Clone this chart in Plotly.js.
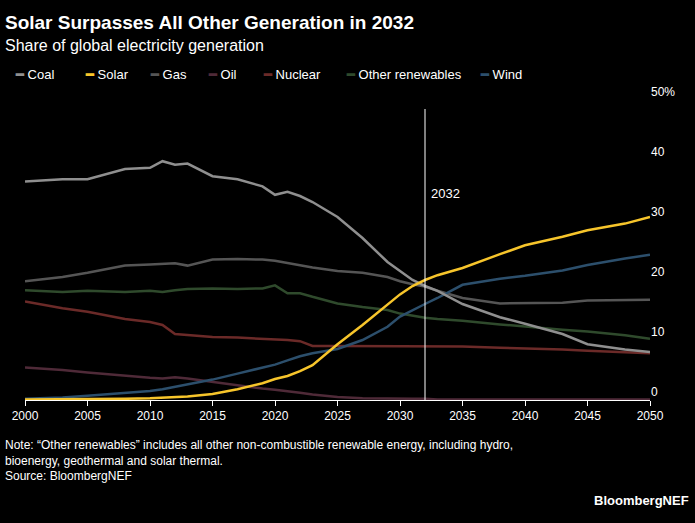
<!DOCTYPE html>
<html>
<head>
<meta charset="utf-8">
<script src="https://cdn.plot.ly/plotly-3.0.1.min.js"></script>
<style>body{margin:0;background:#000}</style>
</head>
<body>
<div id="chart" style="width:695px;height:523px"></div>
<script>
// Share of global electricity generation, %
const years = [2000, 2003, 2005, 2008, 2010, 2011, 2012, 2013, 2015, 2017, 2019, 2020, 2021, 2022, 2023, 2025, 2027, 2029, 2030, 2031, 2032, 2033, 2035, 2038, 2040, 2043, 2045, 2048, 2050];
const coal    = [36.4, 36.8, 36.8, 38.5, 38.7, 39.8, 39.2, 39.4, 37.3, 36.8, 35.6, 34.2, 34.7, 34.0, 33.0, 30.5, 27.0, 23.0, 21.5, 20.0, 19.0, 18.2, 16.0, 13.8, 12.7, 11.0, 9.3, 8.4, 8.0];
const solar   = [0.1, 0.1, 0.1, 0.2, 0.3, 0.4, 0.5, 0.6, 1.0, 1.8, 2.8, 3.5, 4.0, 4.8, 5.8, 9.3, 12.5, 16.0, 17.6, 19.0, 20.0, 20.8, 22.0, 24.3, 25.8, 27.2, 28.3, 29.4, 30.5];
const gas     = [19.8, 20.5, 21.2, 22.4, 22.6, 22.7, 22.8, 22.4, 23.4, 23.5, 23.4, 23.2, 22.8, 22.4, 22.1, 21.5, 21.2, 20.5, 19.8, 19.3, 18.9, 18.2, 17.0, 16.1, 16.1, 16.2, 16.6, 16.7, 16.7];
const oil     = [5.4, 5.0, 4.6, 4.0, 3.7, 3.6, 3.8, 3.6, 3.0, 2.4, 1.9, 1.7, 1.5, 1.2, 0.9, 0.5, 0.3, 0.2, 0.2, 0.2, 0.2, 0.1, 0.1, 0.1, 0.1, 0.1, 0.1, 0.1, 0.1];
const nuclear = [16.4, 15.3, 14.7, 13.5, 13.0, 12.5, 11.0, 10.8, 10.5, 10.4, 10.2, 10.2, 10.0, 9.8, 9.0, 9.0, 9.0, 9.0, 9.0, 9.0, 9.0, 9.0, 8.9, 8.7, 8.6, 8.4, 8.2, 8.0, 7.8];
const otherRen= [18.3, 18.0, 18.2, 18.0, 18.2, 18.0, 18.3, 18.5, 18.6, 18.5, 18.6, 19.1, 17.8, 17.8, 17.2, 16.1, 15.5, 15.0, 14.4, 14.0, 13.7, 13.5, 13.2, 12.6, 12.2, 11.7, 11.4, 10.8, 10.2];
const wind    = [0.2, 0.4, 0.7, 1.2, 1.5, 1.8, 2.2, 2.5, 3.4, 4.4, 5.4, 5.9, 6.6, 7.3, 7.8, 8.5, 10.0, 12.2, 13.9, 15.0, 16.0, 17.0, 19.2, 20.2, 20.7, 21.6, 22.5, 23.6, 24.2];

const seriesNames  = ['Coal', 'Solar', 'Gas', 'Oil', 'Nuclear', 'Other renewables', 'Wind'];
const seriesValues = [coal, solar, gas, oil, nuclear, otherRen, wind];
const seriesColors = ['#8f8f8f', '#f7c52b', '#555555', '#4f2a38', '#6b2a28', '#2f4a2c', '#2c4f6c'];
const tickVals = [0, 10, 20, 30, 40, 50];
const tickText = ['0', '10', '20', '30', '40', '50%'];

// draw yellow on top, so order matters
const drawOrder = [2, 3, 4, 5, 6, 0, 1];
const data = drawOrder.map(i => ({
    x: years,
    y: seriesValues[i],
    mode: 'lines',
    name: seriesNames[i],
    line: { color: seriesColors[i], width: 2.5 },
    showlegend: false
}));

// paper y from a pixel row (plot area spans rows 100..400)
const py = p => (400 - p) / 300;

// legend drawn as annotations to keep the original order
const legendX = [-0.02, 0.092, 0.196, 0.29, 0.377, 0.51, 0.725];
const annotations = seriesNames.map((n, i) => ({
    xref: 'paper', yref: 'paper', x: legendX[i], y: py(74), xanchor: 'left', yanchor: 'middle',
    text: '<span style="color:' + seriesColors[i] + '"><b>━</b></span> ' + n,
    showarrow: false, font: { color: '#ffffff', size: 13 }
}));
annotations.push({
    xref: 'paper', yref: 'paper', x: -0.035, y: py(10), xanchor: 'left', yanchor: 'top',
    text: '<b>Solar Surpasses All Other Generation in 2032</b>', showarrow: false,
    font: { color: '#ffffff', size: 19 }
});
annotations.push({
    xref: 'paper', yref: 'paper', x: -0.035, y: py(35), xanchor: 'left', yanchor: 'top',
    text: 'Share of global electricity generation', showarrow: false,
    font: { color: '#ffffff', size: 16 }
});
annotations.push({
    x: 2032, y: 40, xref: 'x', yref: 'y', text: '2032', showarrow: false,
    xanchor: 'left', xshift: 4, yshift: -33, font: { color: '#ffffff', size: 13 }
});
annotations.push({
    xref: 'paper', yref: 'paper', x: -0.035, y: py(436), xanchor: 'left', yanchor: 'top', align: 'left',
    text: 'Note: “Other renewables” includes all other non-combustible renewable energy, including hydro,<br>bioenergy, geothermal and solar thermal.<br>Source: BloombergNEF',
    showarrow: false, font: { color: '#ffffff', size: 12 }
});
annotations.push({
    xref: 'paper', yref: 'paper', x: 1.065, y: py(500), xanchor: 'right', yanchor: 'middle',
    text: '<b>BloombergNEF</b>', showarrow: false, font: { color: '#ffffff', size: 13 }
});

const layout = {
    paper_bgcolor: '#000000',
    plot_bgcolor: '#000000',
    font: { family: 'Liberation Sans, Arial', color: '#ffffff' },
    margin: { t: 100, r: 45, l: 25, b: 123 },
    xaxis: {
        range: [2000, 2050], tickvals: [2000, 2005, 2010, 2015, 2020, 2025, 2030, 2035, 2040, 2045, 2050],
        showgrid: false, zeroline: false, showline: true, linecolor: '#ffffff', linewidth: 1,
        ticks: 'outside', tickcolor: '#ffffff', ticklen: 5,
        tickfont: { color: '#ffffff', size: 12 }
    },
    yaxis: {
        range: [0, 50], side: 'right', tickvals: tickVals, ticktext: tickText,
        showgrid: false, zeroline: false, ticks: '', ticklabelposition: 'outside top',
        tickfont: { color: '#ffffff', size: 12 }
    },
    shapes: [{
        type: 'line', xref: 'x', yref: 'paper', x0: 2032, x1: 2032, y0: 0, y1: 0.97,
        line: { color: '#ffffff', width: 1 }
    }],
    annotations: annotations
};

Plotly.newPlot('chart', data, layout, { displayModeBar: false });
</script>
</body>
</html>
